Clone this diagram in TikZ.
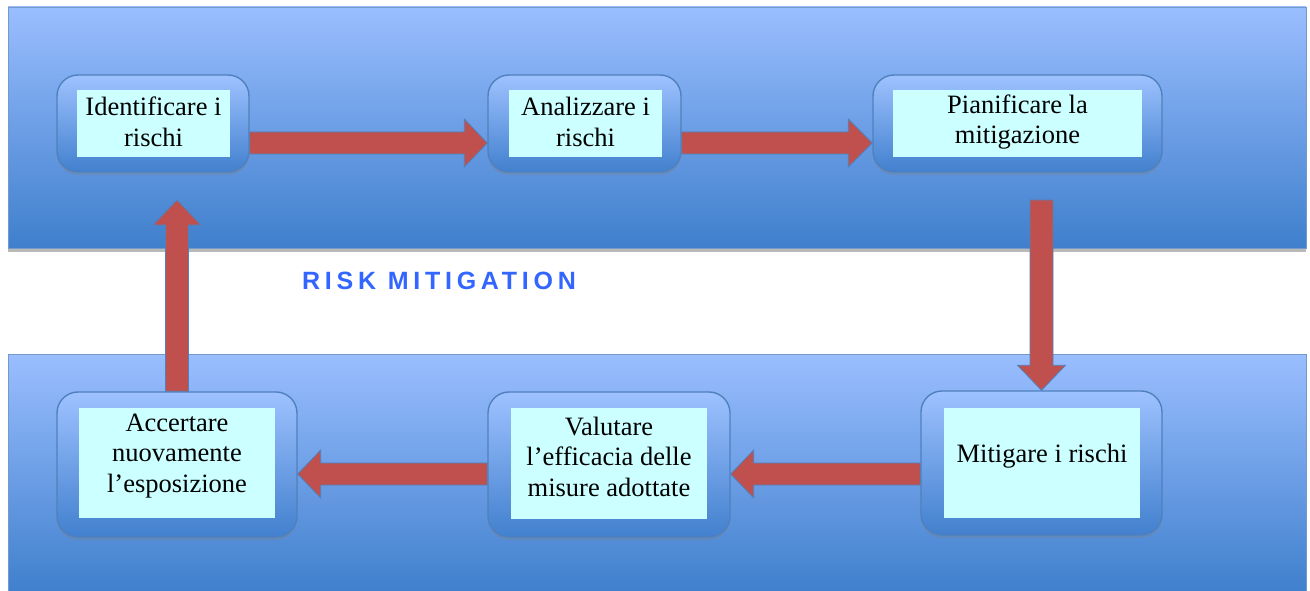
\documentclass[tikz,border=0pt]{standalone}
\usepackage{fontspec}
\setmainfont{Liberation Serif}
\newfontfamily\riskfont[LetterSpace=19]{Liberation Sans}
\usetikzlibrary{calc,shadows}
\definecolor{bandtop}{HTML}{9ABEFF}
\definecolor{bandbot}{HTML}{3F7FCC}
\definecolor{boxtop}{HTML}{9EC2FF}
\definecolor{boxbot}{HTML}{4280CE}
\definecolor{edgeblue}{HTML}{4F81BD}
\definecolor{innerfill}{HTML}{CCFFFF}
\definecolor{arrowred}{HTML}{C0504D}
\definecolor{titleblue}{HTML}{3366FF}
\tikzset{
  band/.style={top color=bandtop, bottom color=bandbot, draw=edgeblue!80, line width=0.8pt},
  bandshadow/.style={fill=gray!55},
  outerbox/.style={rectangle, rounded corners=21pt, top color=boxtop, bottom color=boxbot,
    draw=edgeblue, line width=1.4pt,
    drop shadow={shadow xshift=0pt, shadow yshift=-3pt, opacity=0.3, fill=gray}},
  innerbox/.style={rectangle, fill=innerfill, inner sep=0pt},
  boxtext/.style={align=center, font=\fontsize{26.5}{30.5}\selectfont, inner sep=0pt},
  redarrow/.style={fill=arrowred, draw=edgeblue, line width=0.8pt, line join=miter}
}
% horizontal arrow: from, to, signed head length, y offset
\newcommand\harrow[4]{%
  \path[redarrow] let \p1=($(#1)+(0,#4)$), \p2=($(#2)+(0,#4)$) in
    (\x1,\y1+11pt) -- (\x2-#3,\y1+11pt) -- (\x2-#3,\y1+24pt) -- (\x2,\y1)
    -- (\x2-#3,\y1-24pt) -- (\x2-#3,\y1-11pt) -- (\x1,\y1-11pt) -- cycle;}
% vertical arrow: from, to, signed head length
\newcommand\varrow[3]{%
  \path[redarrow] let \p1=(#1), \p2=(#2) in
    (\x1-11.5pt,\y1) -- (\x1-11.5pt,\y2-#3) -- (\x1-24pt,\y2-#3) -- (\x1,\y2)
    -- (\x1+24pt,\y2-#3) -- (\x1+11.5pt,\y2-#3) -- (\x1+11.5pt,\y1) -- cycle;}
\begin{document}
\begin{tikzpicture}[x=1pt,y=-1pt]
\useasboundingbox (0,0) rectangle (1310,591);
\fill[white] (0,0) rectangle (1310,591);
% bands
\path[bandshadow] (8,248) rectangle (1306,252);
\path[band] (8,7) rectangle (1306,248);
\path[band] (8,354) rectangle (1306,594);
% title
\node[text=titleblue, font=\riskfont\bfseries\fontsize{25}{30}\selectfont, inner sep=0pt] (title) at (439,281) {RISK MITIGATION};
% outer boxes
\node[outerbox, minimum width=192, minimum height=97] (b1) at (153,123.5) {};
\node[outerbox, minimum width=193, minimum height=97] (b2) at (584.5,123.5) {};
\node[outerbox, minimum width=289, minimum height=97] (b3) at (1017.5,123.5) {};
\node[outerbox, minimum width=241, minimum height=144] (b4) at (1041.5,463) {};
\node[outerbox, minimum width=242, minimum height=145] (b5) at (609,464.5) {};
\node[outerbox, minimum width=240, minimum height=145] (b6) at (177,464.5) {};
% inner boxes
\node[innerbox, minimum width=153, minimum height=67] (i1) at (153.5,123.5) {};
\node[innerbox, minimum width=153, minimum height=67] (i2) at (585.5,123.5) {};
\node[innerbox, minimum width=249, minimum height=67] (i3) at (1017.5,123.5) {};
\node[innerbox, minimum width=196, minimum height=110] (i4) at (1042,463) {};
\node[innerbox, minimum width=196, minimum height=111] (i5) at (609,463.5) {};
\node[innerbox, minimum width=196, minimum height=110] (i6) at (177,463) {};
% texts
\node[boxtext] (t1) at ([yshift=1.5pt]i1.center) {Identificare i\\rischi};
\node[boxtext] (t2) at ([yshift=1.5pt]i2.center) {Analizzare i\\rischi};
\node[boxtext] (t3) at ([yshift=1.5pt]i3.center) {Pianificare la\\mitigazione};
\node[boxtext] (t4) at ([yshift=7pt]i4.center) {Mitigare i rischi};
\node[boxtext] (t5) at ([yshift=7pt]i5.center) {Valutare\\l’efficacia delle\\misure adottate};
\node[boxtext] (t6) at ([yshift=7pt]i6.center) {Accertare\\nuovamente\\l’esposizione};
% free ends
\coordinate (d0) at (1041.5,200);
\coordinate (u0) at (176.5,200);
% arrows
\harrow{b1.east}{b2.west}{23pt}{19.5}
\harrow{b2.east}{b3.west}{24pt}{19.5}
\varrow{d0}{b4.north}{-25pt}
\harrow{b4.west}{b5.east}{-23pt}{11}
\harrow{b5.west}{b6.east}{-23pt}{9.5}
\varrow{b6.north}{u0}{25pt}
\end{tikzpicture}
\end{document}
